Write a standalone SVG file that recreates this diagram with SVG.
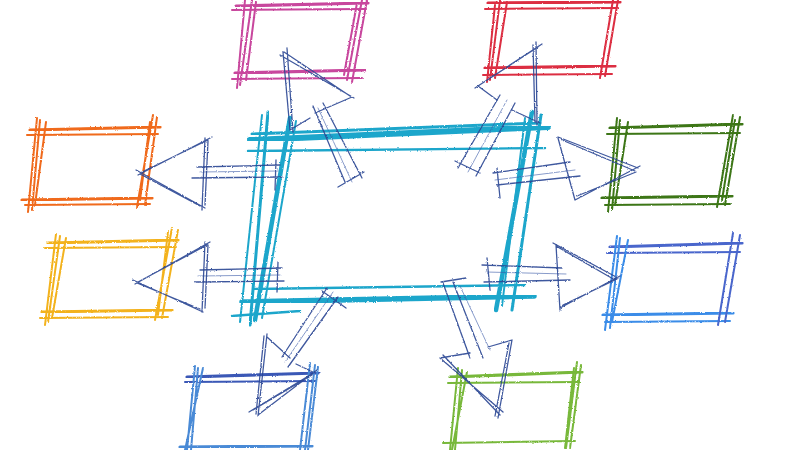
<svg xmlns="http://www.w3.org/2000/svg" width="800" height="450" viewBox="0 0 800 450">
<defs>
<filter id="crayon" x="-5%" y="-5%" width="110%" height="110%">
<feTurbulence type="fractalNoise" baseFrequency="0.8" numOctaves="2" seed="3" result="n"/>
<feDisplacementMap in="SourceGraphic" in2="n" scale="2.2" xChannelSelector="R" yChannelSelector="G"/>
</filter>
<style>
.s{fill:none;stroke-linecap:round;stroke-linejoin:round;filter:url(#crayon)}
.thick{stroke-width:3.2}
.mid{stroke-width:2}
.thin{stroke-width:1.3}
.pink{stroke:#c8469d}
.red{stroke:#dc2f42}
.orange{stroke:#f06a1c}
.yellow{stroke:#f3b21c}
.dgreen{stroke:#3c7618}
.blue{stroke:#4a66cc}
.lblue{stroke:#3a8ce8}
.nblue{stroke:#3a58b6}
.nlblue{stroke:#4a8ad6}
.green{stroke:#78b83a}
.cyan{stroke:#1fa6cb}
.arrow{stroke:#2c4794;stroke-width:1.3;opacity:0.9}
.arrowf{stroke:#3a5aa8;stroke-width:1;opacity:0.6}
</style>
</defs>
<rect width="800" height="450" fill="#ffffff"/>

<g id="center">
<path class="s cyan" stroke-width="6" d="M250,140 L548,127"/>
<path class="s cyan" stroke-width="3" d="M252,134 L540,123"/>
<path class="s cyan" stroke-width="2.4" d="M248,151 L545,148"/>
<path class="s cyan" stroke-width="3" d="M268,112 L250,325"/>
<path class="s cyan" stroke-width="4.5" d="M290,118 L255,320"/>
<path class="s cyan" stroke-width="2" d="M262,115 L240,322"/>
<path class="s cyan" stroke-width="2" d="M296,121 L262,318"/>
<path class="s cyan" stroke-width="4.5" d="M532,112 L496,310"/>
<path class="s cyan" stroke-width="3" d="M541,115 L512,310"/>
<path class="s cyan" stroke-width="2" d="M525,118 L502,306"/>
<path class="s cyan" stroke-width="2.4" d="M255,289 L525,285"/>
<path class="s cyan" stroke-width="5.5" d="M242,302 L534,296"/>
<path class="s cyan" stroke-width="2.5" d="M232,316 L300,311"/>
</g>

<g id="pink-box">
<path class="s pink thick" d="M236,6 L368,3"/>
<path class="s pink mid" d="M232,10 L366,9"/>
<path class="s pink thick" d="M235,73 L365,70"/>
<path class="s pink mid" d="M232,79 L362,78"/>
<path class="s pink mid" d="M245,0 L237,88 M252,0 L240,85 M256,2 L246,80"/>
<path class="s pink mid" d="M362,0 L347,80 M367,0 L352,82 M357,3 L344,75"/>
</g>

<g id="red-box">
<path class="s red thick" d="M488,3 L620,2"/>
<path class="s red mid" d="M485,9 L618,8"/>
<path class="s red thick" d="M485,68 L615,66"/>
<path class="s red mid" d="M483,75 L612,74"/>
<path class="s red mid" d="M500,0 L490,80 M507,2 L495,78 M495,5 L487,82"/>
<path class="s red mid" d="M613,0 L600,78 M618,0 L605,76"/>
</g>

<g id="orange-box">
<path class="s orange thick" d="M30,130 L160,127"/>
<path class="s orange mid" d="M27,135 L158,134"/>
<path class="s orange thick" d="M22,200 L152,198"/>
<path class="s orange mid" d="M25,205 L150,204"/>
<path class="s orange mid" d="M37,118 L28,212 M40,120 L32,210 M46,122 L35,205"/>
<path class="s orange mid" d="M153,115 L137,207 M157,117 L145,205 M150,122 L140,200"/>
</g>

<g id="yellow-box">
<path class="s yellow thick" d="M48,243 L178,240"/>
<path class="s yellow mid" d="M45,248 L176,247"/>
<path class="s yellow thick" d="M42,312 L172,310"/>
<path class="s yellow mid" d="M40,318 L168,317"/>
<path class="s yellow mid" d="M56,234 L45,325 M60,236 L48,322 M66,238 L52,318"/>
<path class="s yellow mid" d="M172,228 L155,320 M178,230 L162,318 M168,232 L158,315"/>
</g>

<g id="green-dark-box">
<path class="s dgreen thick" d="M610,128 L742,124"/>
<path class="s dgreen mid" d="M607,134 L740,133"/>
<path class="s dgreen thick" d="M602,198 L732,196"/>
<path class="s dgreen mid" d="M605,205 L730,204"/>
<path class="s dgreen mid" d="M617,118 L608,212 M620,120 L612,210 M628,122 L615,205"/>
<path class="s dgreen mid" d="M733,115 L717,207 M740,117 L725,205 M735,120 L722,200"/>
</g>

<g id="blue-box">
<path class="s blue thick" d="M610,247 L742,243"/>
<path class="s blue mid" d="M607,253 L740,252"/>
<path class="s lblue thick" d="M603,315 L733,313"/>
<path class="s lblue mid" d="M605,322 L730,321"/>
<path class="s lblue mid" d="M617,236 L605,330 M620,238 L610,328 M628,240 L612,322"/>
<path class="s blue mid" d="M733,233 L718,325 M740,235 L725,322"/>
</g>

<g id="navy-box">
<path class="s nblue thick" d="M187,377 L318,373"/>
<path class="s nblue mid" d="M185,382 L316,381"/>
<path class="s nlblue thick" d="M180,447 L312,446"/>
<path class="s nlblue mid" d="M195,366 L187,450 M198,368 L191,450 M203,368 L185,450"/>
<path class="s nlblue mid" d="M310,363 L300,450 M315,365 L305,450 M318,367 L308,450"/>
</g>

<g id="green-box">
<path class="s green thick" d="M450,377 L582,372"/>
<path class="s green mid" d="M448,383 L580,382"/>
<path class="s green mid" d="M443,443 L575,441"/>
<path class="s green mid" d="M458,368 L450,450 M462,370 L455,450 M467,372 L452,450"/>
<path class="s green mid" d="M577,362 L566,448 M581,365 L570,448 M574,368 L565,448"/>
</g>

<g id="connectors">
<g id="arrow-orange">
<path class="s arrow" d="M197,167 L280,165 M192,178 L282,177 M276,160 L275,190"/>
<path class="s arrowf" d="M200,172 L278,171"/>
<path class="s arrow" d="M138,175 L212,137 M142,172 L208,140 M136,170 L205,208 M140,174 L200,206 M205,138 L202,210 M208,141 L205,205"/>
</g>
<g id="arrow-yellow">
<path class="s arrow" d="M200,270 L282,268 M195,282 L284,281 M278,262 L277,292"/>
<path class="s arrowf" d="M198,276 L280,275"/>
<path class="s arrow" d="M135,284 L210,242 M138,282 L207,245 M133,280 L203,312 M137,283 L200,309 M205,242 L202,312 M208,245 L205,308"/>
</g>
<g id="arrow-darkgreen">
<path class="s arrow" d="M493,173 L570,162 M497,185 L580,176 M497,168 L500,198"/>
<path class="s arrowf" d="M495,180 L575,170"/>
<path class="s arrow" d="M558,137 L638,168 M562,140 L635,171 M575,200 L640,166 M577,196 L636,172 M558,138 L575,200"/>
</g>
<g id="arrow-blue">
<path class="s arrow" d="M482,265 L562,268 M484,282 L570,280 M487,258 L490,290"/>
<path class="s arrowf" d="M486,272 L566,274"/>
<path class="s arrow" d="M553,243 L618,278 M556,246 L615,280 M560,308 L620,276 M563,305 L617,279 M556,245 L560,310"/>
</g>
<g id="arrow-pink">
<path class="s arrow" d="M280,55 L354,98 M284,52 L350,96 M287,48 L293,132 M283,52 L290,130 M290,130 L310,118 M352,97 L315,113"/>
<path class="s arrow" d="M313,106 L345,182 M323,103 L362,178 M338,187 L364,172"/>
<path class="s arrowf" d="M318,108 L352,182"/>
</g>
<g id="arrow-red">
<path class="s arrow" d="M542,44 L475,88 M538,47 L478,86 M536,42 L537,125 M533,45 L535,122 M478,86 L497,100 M512,110 L540,123"/>
<path class="s arrow" d="M500,95 L458,168 M515,103 L476,176 M455,161 L480,173"/>
<path class="s arrowf" d="M507,100 L468,172"/>
</g>
<g id="arrow-navy">
<path class="s arrow" d="M327,288 L282,357 M338,297 L288,367 M322,291 L346,308"/>
<path class="s arrowf" d="M333,292 L285,362"/>
<path class="s arrow" d="M267,334 L258,416 M264,336 L256,414 M267,337 L290,358 M296,364 L315,373 M315,372 L249,412 M312,375 L253,410 M317,370 L258,415"/>
</g>
<g id="arrow-green">
<path class="s arrow" d="M443,283 L470,358 M453,282 L483,358 M441,282 L466,278"/>
<path class="s arrowf" d="M460,286 L490,350"/>
<path class="s arrow" d="M440,358 L470,353 M488,347 L512,340 M440,358 L503,412 M443,355 L500,415 M512,340 L498,418 M509,343 L495,416"/>
</g>
</g>
</svg>
